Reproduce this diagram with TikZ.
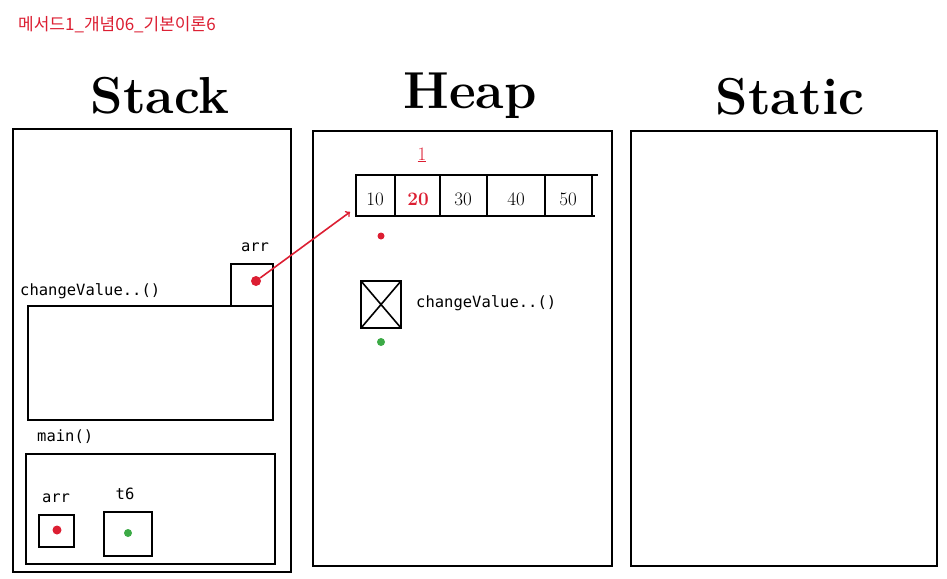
\documentclass[tikz,border=0pt]{standalone}
\usepackage{fontspec}
\setmonofont{DejaVu Sans Mono}
\newfontfamily\krfont{Noto Sans CJK KR}
\definecolor{memored}{RGB}{220,30,50}
\definecolor{memogreen}{RGB}{60,170,70}
\tikzset{
  area/.style={line width=2.6pt},
  frame/.style={line width=1.8pt},
  slot/.style={line width=1.6pt},
  code/.style={font=\ttfamily\fontsize{15.5}{18}\selectfont, inner sep=0pt},
  hand/.style={font=\bfseries\fontsize{52}{58}\selectfont, inner sep=0pt},
  reddot/.style={circle, fill=memored, inner sep=0pt, minimum size=9pt},
  greendot/.style={circle, fill=memogreen, inner sep=0pt, minimum size=8pt},
}
\begin{document}
\begin{tikzpicture}[x=1pt, y=-1pt, >=to]
  \useasboundingbox (0,0) rectangle (947,578);

  \node[anchor=west, text=memored, inner sep=0pt, font=\krfont\fontsize{17}{20}\selectfont] (title) at (18,25) {메서드1\_개념06\_기본이론6};

  % three areas
  \node[hand] (stack) at (160,96) {Stack};
  \node[hand] (heap) at (470,96) {Heap};
  \node[hand] (static) at (790,97) {Static};
  \draw[area] (13,129) rectangle (291,572);
  \draw[area] (313,131) rectangle (612,566);
  \draw[area] (631,131) rectangle (937,566);

  % stack: changeValue frame
  \node[code, anchor=west] (cvlabel) at (20,291) {changeValue..()};
  \draw[frame] (28,306) rectangle (273,420);
  \node[code] (arrlabel) at (255,247) {arr};
  \draw[frame] (231,264) rectangle (273,306);
  \node[reddot, minimum size=10pt] (sarr) at (256,281) {};

  % stack: main frame
  \node[code, anchor=west] (mainlabel) at (37,437) {main()};
  \draw[frame] (26,454) rectangle (275,564);
  \node[code] (marrlabel) at (56,498) {arr};
  \draw[slot] (39,515) rectangle (74,547);
  \node[reddot] (marr) at (57,530) {};
  \node[code] (t6label) at (125,494) {t6};
  \draw[slot] (104,512) rectangle (152,556);
  \node[greendot, minimum size=8pt] (t6) at (128,533) {};

  % heap: array
  \draw[slot] (355,175) -- (598,175);
  \draw[slot] (355,216) -- (595,216);
  \foreach \x in {356,395,440,487,545,592}
    \draw[slot] (\x,175) -- (\x,216);
  \foreach \x/\v in {375/10,463/30,516/40,568/50}
    \node[font=\fontsize{19}{22}\selectfont] (cell\v) at (\x,199) {\v};
  \node[font=\bfseries\fontsize{19}{22}\selectfont, text=memored] (cell20) at (418,199) {20};
  \node[font=\fontsize{19}{22}\selectfont, text=memored] (idx) at (422,155) {\underline{1}};
  \node[reddot, minimum size=7pt] (haddr) at (381,236) {};
  \coordinate (arrin) at (350,212);

  % heap: changeValue object
  \draw[slot] (361,281) rectangle (401,328);
  \draw[slot] (361,281) -- (401,328);
  \draw[slot] (401,281) -- (361,328);
  \node[greendot] (caddr) at (381,342) {};
  \node[code, anchor=west] (cvheap) at (416,303) {changeValue..()};

  \draw[->, memored, line width=1.6pt] (sarr) -- (arrin);
\end{tikzpicture}
\end{document}
